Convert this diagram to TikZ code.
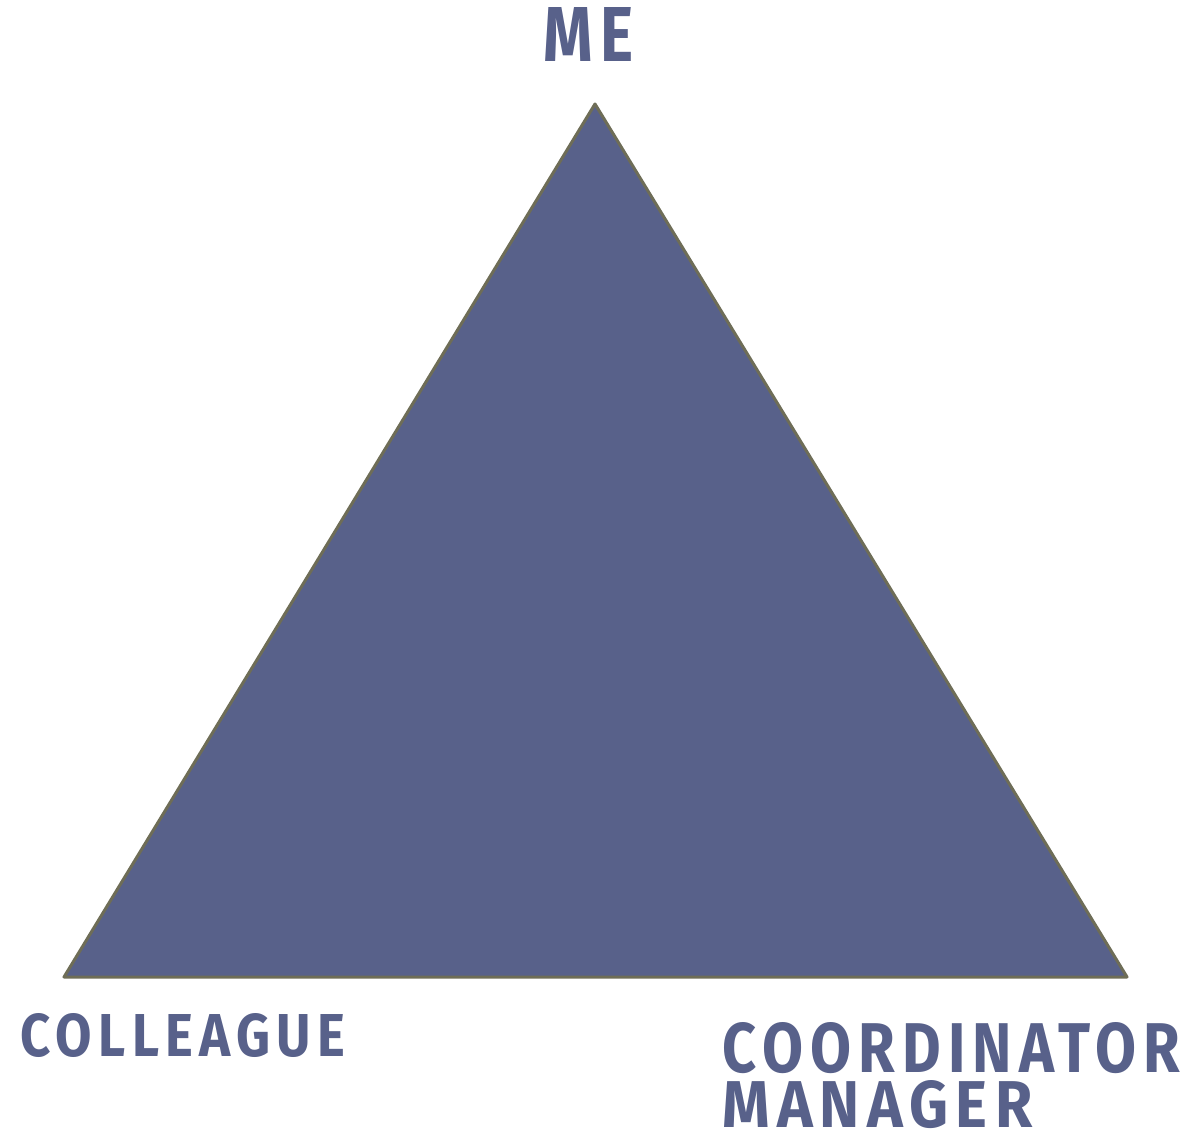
\documentclass[tikz,border=0pt]{standalone}
\usepackage{fontspec}
\usepackage{graphicx}
\newfontfamily\lblfont[LetterSpace=12]{Fira Sans Bold}
\definecolor{trifill}{HTML}{58618A}
\definecolor{triedge}{HTML}{6E6D57}
\definecolor{lbl}{HTML}{58618A}
\tikzset{lblnode/.style={inner sep=0pt, anchor=base west, text=lbl, font=\lblfont}}
\newcommand{\fitlbl}[3]{\resizebox{#1pt}{#2pt}{#3}}
\begin{document}
\begin{tikzpicture}[x=1pt,y=1pt]
\useasboundingbox (0,0) rectangle (1198,1132);
\coordinate (top) at (595,1028);
\coordinate (bl) at (64,155);
\coordinate (br) at (1127,155);
\filldraw[fill=trifill, draw=triedge, line width=3pt, line join=round] (top) -- (bl) -- (br) -- cycle;
\node[lblnode] (me) at (543,1070) {\fitlbl{90}{54}{ME}};
\node[lblnode] (colleague) at (20,76) {\fitlbl{325}{43}{COLLEAGUE}};
\node[lblnode] (coord) at (722,60) {\fitlbl{458}{50}{COORDINATOR}};
\node[lblnode] (manager) at (722,5) {\fitlbl{310}{47}{MANAGER}};
\end{tikzpicture}
\end{document}
